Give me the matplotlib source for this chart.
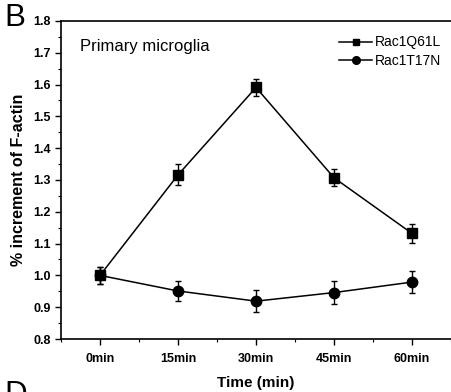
import matplotlib
matplotlib.use('Agg')
import matplotlib.pyplot as plt
from matplotlib.ticker import MultipleLocator, FormatStrFormatter
from matplotlib.lines import Line2D
import numpy as np

plt.rcParams['font.family'] = ['Liberation Sans', 'DejaVu Sans']

times = ['0min', '15min', '30min', '45min', '60min']
q61l_mean = [1.000, 1.316, 1.591, 1.307, 1.132]
q61l_err = [0.026, 0.033, 0.027, 0.027, 0.031]
t17n_mean = [1.000, 0.951, 0.919, 0.946, 0.979]
t17n_err = [0.026, 0.032, 0.035, 0.036, 0.035]

fig = plt.figure(figsize=(4.51, 3.92), dpi=100)
ax = fig.add_axes([61 / 451, 1 - 339 / 392, 1 - 61 / 451, (339 - 21) / 392])

x = np.arange(len(times))
ax.errorbar(x, q61l_mean, yerr=q61l_err, color='black', marker='s', markersize=6.5,
            linewidth=1.1, capsize=2.5, elinewidth=1, capthick=1)
ax.errorbar(x, t17n_mean, yerr=t17n_err, color='black', marker='o', markersize=7.5,
            linewidth=1.1, capsize=2.5, elinewidth=1, capthick=1)

ax.set_xlim(-0.5, 4.5)
ax.set_ylim(0.8, 1.8)
ax.set_xticks(x)
ax.set_xticklabels(times)
ax.xaxis.set_minor_locator(MultipleLocator(0.5))
ax.yaxis.set_major_locator(MultipleLocator(0.1))
ax.yaxis.set_minor_locator(MultipleLocator(0.05))
ax.yaxis.set_major_formatter(FormatStrFormatter('%.1f'))

ax.tick_params(which='major', direction='out', length=4, width=1, labelsize=9)
ax.tick_params(axis='x', which='major', pad=6)
ax.tick_params(which='minor', direction='out', length=2.5, width=0.8)
for lbl in ax.get_xticklabels() + ax.get_yticklabels():
    lbl.set_fontweight('bold')

ax.spines['right'].set_visible(False)
for s in ['left', 'bottom', 'top']:
    ax.spines[s].set_linewidth(1.2)

ax.set_xlabel('Time (min)', fontsize=11, fontweight='bold', labelpad=8)
ax.set_ylabel('% increment of F-actin', fontsize=11.5, fontweight='bold', labelpad=5)

ax.text(0.05, 0.92, 'Primary microglia', transform=ax.transAxes, fontsize=12,
        va='center', ha='left')

handles = [Line2D([], [], color='black', marker='s', markersize=5, linewidth=1.1),
           Line2D([], [], color='black', marker='o', markersize=5.5, linewidth=1.1)]
ax.legend(handles, ['Rac1Q61L', 'Rac1T17N'], loc='upper right',
          bbox_to_anchor=(1.0, 0.985), frameon=False, fontsize=10,
          handlelength=2.4, handletextpad=0.2, labelspacing=0.3, borderaxespad=0.3)

fig.text(4 / 451, 1 - 26 / 392, 'B', fontsize=22.5, va='baseline', ha='left')
fig.text(4 / 451, 1 - 380 / 392, 'D', fontsize=22.5, va='top', ha='left')

fig.savefig('out.png', dpi=100)
